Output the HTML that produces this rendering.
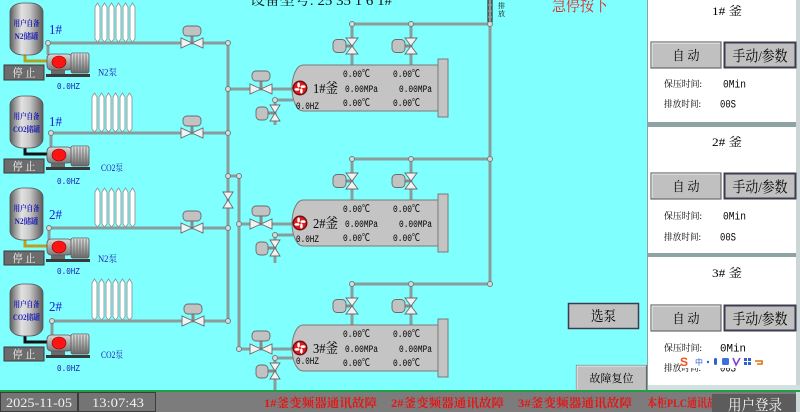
<!DOCTYPE html>
<html><head><meta charset="utf-8"><style>
html,body{margin:0;padding:0;background:#80ffff;}
svg{display:block;}
.cn{font-family:"Liberation Serif","Noto Serif CJK SC",serif;}
.mn{font-family:"Liberation Mono","Noto Sans CJK SC",monospace;}
.p{fill:none;stroke:#8a9c9c;stroke-width:3;}
.nd{fill:#d4dcdc;stroke:#6f8080;stroke-width:1;}
.v{fill:#f2f2f2;stroke:#6a6a6a;stroke-width:0.9;}
.ac{fill:#c2c2c2;stroke:#6a6a6a;stroke-width:0.9;}
.st{stroke:#8a8a8a;stroke-width:3;}
.tb{fill:#ffffff;stroke:#8a9a9a;stroke-width:0.9;}
.blue{fill:#1a1ab4;}
</style></head><body>
<svg width="800" height="412" viewBox="0 0 800 412" xmlns="http://www.w3.org/2000/svg">
<defs>
<linearGradient id="tg" x1="0" x2="1" y1="0" y2="0">
<stop offset="0" stop-color="#5e5e5e"/><stop offset="0.35" stop-color="#e2e2e2"/><stop offset="0.6" stop-color="#c8c8c8"/><stop offset="1" stop-color="#5a5a5a"/>
</linearGradient>
<linearGradient id="pg" x1="0" x2="0" y1="0" y2="1">
<stop offset="0" stop-color="#d8d8d8"/><stop offset="1" stop-color="#7a7a7a"/>
</linearGradient>
<linearGradient id="mg" x1="0" x2="0" y1="0" y2="1">
<stop offset="0" stop-color="#e4e4e4"/><stop offset="0.5" stop-color="#a8a8a8"/><stop offset="1" stop-color="#6a6a6a"/>
</linearGradient>
</defs>
<rect x="0" y="0" width="800" height="412" fill="#80ffff"/>

<!-- top texts -->
<text x="250" y="5" font-size="14" class="cn" fill="#111" textLength="142" lengthAdjust="spacingAndGlyphs">设备型号: 25 35 1 6 1#</text>
<text x="552" y="11" font-size="17" class="cn" fill="#e02828" textLength="56" lengthAdjust="spacingAndGlyphs">急停按下</text>
<rect x="487.5" y="0" width="5" height="22" fill="#111"/>
<line x1="488" y1="5" x2="492" y2="5" stroke="#bbb" stroke-width="1"/>
<line x1="488" y1="11" x2="492" y2="11" stroke="#bbb" stroke-width="1"/>
<line x1="488" y1="17" x2="492" y2="17" stroke="#bbb" stroke-width="1"/>
<text x="498" y="8" font-size="7" class="cn" fill="#111">排</text>
<text x="498" y="16" font-size="7" class="cn" fill="#111">放</text>

<!-- ===== main pipes ===== -->
<!-- row horizontal pipes -->
<line x1="48" y1="43" x2="228" y2="43" class="p"/>
<line x1="51" y1="133" x2="228" y2="133" class="p"/>
<line x1="49" y1="228" x2="228" y2="228" class="p"/>
<line x1="52" y1="321" x2="228" y2="321" class="p"/>
<!-- pump vertical pipes -->
<line x1="48" y1="43" x2="48" y2="55" class="p"/>
<line x1="51" y1="133" x2="51" y2="148" class="p"/>
<line x1="49" y1="228" x2="49" y2="240" class="p"/>
<line x1="52" y1="321" x2="52" y2="336" class="p"/>
<!-- collectors -->
<line x1="228" y1="43" x2="228" y2="321" class="p"/>
<polyline points="228,176 239,176 239,349" class="p"/>
<line x1="490" y1="0" x2="490" y2="284" class="p"/>
<!-- inlets -->
<line x1="228" y1="89" x2="293" y2="89" class="p"/>
<line x1="239" y1="224" x2="293" y2="224" class="p"/>
<line x1="239" y1="349" x2="293" y2="349" class="p"/>
<line x1="275" y1="385" x2="275" y2="392" class="p"/>

<!-- exchangers -->
<g>
<polygon class="tb" points="95,7 97.5,3 100,7 100,39 97.5,42 95,39"/>
<polygon class="tb" points="102,7 104.5,3 107,7 107,39 104.5,42 102,39"/>
<polygon class="tb" points="109,7 111.5,3 114,7 114,39 111.5,42 109,39"/>
<polygon class="tb" points="116,7 118.5,3 121,7 121,39 118.5,42 116,39"/>
<polygon class="tb" points="123,7 125.5,3 128,7 128,39 125.5,42 123,39"/>
<polygon class="tb" points="130,7 132.5,3 135,7 135,39 132.5,42 130,39"/>

<polygon class="tb" points="92,97 94.5,93 97,97 97,129 94.5,132 92,129"/>
<polygon class="tb" points="99,97 101.5,93 104,97 104,129 101.5,132 99,129"/>
<polygon class="tb" points="106,97 108.5,93 111,97 111,129 108.5,132 106,129"/>
<polygon class="tb" points="113,97 115.5,93 118,97 118,129 115.5,132 113,129"/>
<polygon class="tb" points="120,97 122.5,93 125,97 125,129 122.5,132 120,129"/>
<polygon class="tb" points="127,97 129.5,93 132,97 132,129 129.5,132 127,129"/>

<polygon class="tb" points="95,192 97.5,188 100,192 100,224 97.5,227 95,224"/>
<polygon class="tb" points="102,192 104.5,188 107,192 107,224 104.5,227 102,224"/>
<polygon class="tb" points="109,192 111.5,188 114,192 114,224 111.5,227 109,224"/>
<polygon class="tb" points="116,192 118.5,188 121,192 121,224 118.5,227 116,224"/>
<polygon class="tb" points="123,192 125.5,188 128,192 128,224 125.5,227 123,224"/>
<polygon class="tb" points="130,192 132.5,188 135,192 135,224 132.5,227 130,224"/>

<polygon class="tb" points="92,283 94.5,279 97,283 97,317 94.5,320 92,317"/>
<polygon class="tb" points="99,283 101.5,279 104,283 104,317 101.5,320 99,317"/>
<polygon class="tb" points="106,283 108.5,279 111,283 111,317 108.5,320 106,317"/>
<polygon class="tb" points="113,283 115.5,279 118,283 118,317 115.5,320 113,317"/>
<polygon class="tb" points="120,283 122.5,279 125,283 125,317 122.5,320 120,317"/>
<polygon class="tb" points="127,283 129.5,279 132,283 132,317 129.5,320 127,317"/>
</g>

<!-- row valves -->
<g>
<line x1="192" y1="43" x2="192" y2="34" class="st"/><rect class="ac" x="183" y="26" width="18" height="10" rx="4"/>
<polygon class="v" points="181,38 181,48 192,43"/><polygon class="v" points="203,38 203,48 192,43"/>
<line x1="192" y1="133" x2="192" y2="124" class="st"/><rect class="ac" x="183" y="116" width="18" height="10" rx="4"/>
<polygon class="v" points="181,128 181,138 192,133"/><polygon class="v" points="203,128 203,138 192,133"/>
<line x1="192" y1="228" x2="192" y2="219" class="st"/><rect class="ac" x="183" y="211" width="18" height="10" rx="4"/>
<polygon class="v" points="181,223 181,233 192,228"/><polygon class="v" points="203,223 203,233 192,228"/>
<line x1="193" y1="321" x2="193" y2="312" class="st"/><rect class="ac" x="184" y="304" width="18" height="10" rx="4"/>
<polygon class="v" points="182,316 182,326 193,321"/><polygon class="v" points="204,316 204,326 193,321"/>
<!-- collector valve -->
<polygon class="v" points="223,192 233,192 228,200"/><polygon class="v" points="223,208 233,208 228,200"/>
</g>
<!-- collector nodes -->
<circle class="nd" cx="48" cy="43" r="2.5"/><circle class="nd" cx="51" cy="133" r="2.5"/>
<circle class="nd" cx="49" cy="228" r="2.5"/><circle class="nd" cx="52" cy="321" r="2.5"/>
<circle class="nd" cx="228" cy="43" r="2.5"/><circle class="nd" cx="228" cy="89" r="2.5"/>
<circle class="nd" cx="228" cy="133" r="2.5"/><circle class="nd" cx="228" cy="176" r="2.5"/>
<circle class="nd" cx="239" cy="176" r="2.5"/><circle class="nd" cx="228" cy="228" r="2.5"/>
<circle class="nd" cx="239" cy="224" r="2.5"/><circle class="nd" cx="228" cy="321" r="2.5"/>
<circle class="nd" cx="239" cy="349" r="2.5"/>

<!-- ===== rows (tank + pump) ===== -->
<g transform="translate(0,0)">
<polyline points="25,54 25,61 47,61" fill="none" stroke="#b8a020" stroke-width="3"/>
<rect x="10" y="3" width="33" height="52" rx="13" ry="9" fill="url(#tg)" stroke="#555" stroke-width="0.8"/>
<text x="26.5" y="26" font-size="8" class="cn blue" text-anchor="middle" textLength="26" lengthAdjust="spacingAndGlyphs" font-weight="bold">用户自备</text>
<text x="26.5" y="39" font-size="8" class="cn blue" text-anchor="middle" textLength="24" lengthAdjust="spacingAndGlyphs" font-weight="bold">N2储罐</text>
<text x="49" y="34" font-size="14" class="cn" fill="#1a22cc" textLength="13" lengthAdjust="spacingAndGlyphs">1#</text>
<rect x="4" y="65" width="40" height="15" fill="#6c6c6c" stroke="#3a3a3a"/>
<text x="24" y="76.5" font-size="11" class="cn" fill="#f2f2f2" text-anchor="middle" textLength="23" lengthAdjust="spacingAndGlyphs">停 止</text>
<rect x="51" y="69" width="14" height="6" fill="#6a6a6a"/>
<rect x="47" y="54" width="25" height="16" rx="4" fill="url(#pg)" stroke="#555" stroke-width="0.8"/>
<ellipse cx="59" cy="62" rx="7" ry="6" fill="#ff1414" stroke="#8a0000" stroke-width="0.6"/>
<rect x="71" y="53" width="18" height="20" rx="2" fill="url(#mg)" stroke="#555" stroke-width="0.8"/>
<path d="M74,54V72M77,54V72M80,54V72M83,54V72M86,54V72" stroke="#666" stroke-width="0.8"/>
<rect x="46" y="74" width="44" height="3" fill="#3a3a3a"/>
<text x="98" y="75.5" font-size="9" class="cn blue" textLength="19" lengthAdjust="spacingAndGlyphs">N2泵</text>
<text x="57" y="89" font-size="9" class="mn blue" textLength="23" lengthAdjust="spacingAndGlyphs">0.0HZ</text>
</g>

<g transform="translate(0,93)">
<polyline points="25,54 25,61 47,61" fill="none" stroke="#111" stroke-width="3"/>
<rect x="10" y="3" width="33" height="52" rx="13" ry="9" fill="url(#tg)" stroke="#555" stroke-width="0.8"/>
<text x="26.5" y="26" font-size="8" class="cn blue" text-anchor="middle" textLength="26" lengthAdjust="spacingAndGlyphs" font-weight="bold">用户自备</text>
<text x="26.5" y="39" font-size="8" class="cn blue" text-anchor="middle" textLength="27" lengthAdjust="spacingAndGlyphs" font-weight="bold">CO2储罐</text>
<text x="49" y="33" font-size="14" class="cn" fill="#1a22cc" textLength="13" lengthAdjust="spacingAndGlyphs">1#</text>
<rect x="4" y="66" width="40" height="14" fill="#6c6c6c" stroke="#3a3a3a"/>
<text x="24" y="77" font-size="11" class="cn" fill="#f2f2f2" text-anchor="middle" textLength="23" lengthAdjust="spacingAndGlyphs">停 止</text>
<rect x="51" y="69" width="14" height="6" fill="#6a6a6a"/>
<rect x="47" y="54" width="25" height="16" rx="4" fill="url(#pg)" stroke="#555" stroke-width="0.8"/>
<ellipse cx="59" cy="62" rx="7" ry="6" fill="#ff1414" stroke="#8a0000" stroke-width="0.6"/>
<rect x="71" y="53" width="18" height="20" rx="2" fill="url(#mg)" stroke="#555" stroke-width="0.8"/>
<path d="M74,54V72M77,54V72M80,54V72M83,54V72M86,54V72" stroke="#666" stroke-width="0.8"/>
<rect x="46" y="74" width="44" height="3" fill="#3a3a3a"/>
<text x="101" y="78" font-size="9" class="cn blue" textLength="22" lengthAdjust="spacingAndGlyphs">CO2泵</text>
<text x="57" y="91" font-size="9" class="mn blue" textLength="23" lengthAdjust="spacingAndGlyphs">0.0HZ</text>
</g>

<g transform="translate(0,185)">
<polyline points="25,54 25,61 47,61" fill="none" stroke="#b8a020" stroke-width="3"/>
<rect x="10" y="3" width="33" height="52" rx="13" ry="9" fill="url(#tg)" stroke="#555" stroke-width="0.8"/>
<text x="26.5" y="26" font-size="8" class="cn blue" text-anchor="middle" textLength="26" lengthAdjust="spacingAndGlyphs" font-weight="bold">用户自备</text>
<text x="26.5" y="39" font-size="8" class="cn blue" text-anchor="middle" textLength="24" lengthAdjust="spacingAndGlyphs" font-weight="bold">N2储罐</text>
<text x="49" y="34" font-size="14" class="cn" fill="#1a22cc" textLength="13" lengthAdjust="spacingAndGlyphs">2#</text>
<rect x="4" y="66" width="40" height="14" fill="#6c6c6c" stroke="#3a3a3a"/>
<text x="24" y="77" font-size="11" class="cn" fill="#f2f2f2" text-anchor="middle" textLength="23" lengthAdjust="spacingAndGlyphs">停 止</text>
<rect x="51" y="69" width="14" height="6" fill="#6a6a6a"/>
<rect x="47" y="54" width="25" height="16" rx="4" fill="url(#pg)" stroke="#555" stroke-width="0.8"/>
<ellipse cx="59" cy="62" rx="7" ry="6" fill="#ff1414" stroke="#8a0000" stroke-width="0.6"/>
<rect x="71" y="53" width="18" height="20" rx="2" fill="url(#mg)" stroke="#555" stroke-width="0.8"/>
<path d="M74,54V72M77,54V72M80,54V72M83,54V72M86,54V72" stroke="#666" stroke-width="0.8"/>
<rect x="46" y="74" width="44" height="3" fill="#3a3a3a"/>
<text x="98" y="77" font-size="9" class="cn blue" textLength="19" lengthAdjust="spacingAndGlyphs">N2泵</text>
<text x="57" y="89" font-size="9" class="mn blue" textLength="23" lengthAdjust="spacingAndGlyphs">0.0HZ</text>
</g>

<g transform="translate(0,281)">
<polyline points="25,54 25,61 47,61" fill="none" stroke="#111" stroke-width="3"/>
<rect x="10" y="3" width="33" height="52" rx="13" ry="9" fill="url(#tg)" stroke="#555" stroke-width="0.8"/>
<text x="26.5" y="26" font-size="8" class="cn blue" text-anchor="middle" textLength="26" lengthAdjust="spacingAndGlyphs" font-weight="bold">用户自备</text>
<text x="26.5" y="39" font-size="8" class="cn blue" text-anchor="middle" textLength="27" lengthAdjust="spacingAndGlyphs" font-weight="bold">CO2储罐</text>
<text x="49" y="30" font-size="14" class="cn" fill="#1a22cc" textLength="13" lengthAdjust="spacingAndGlyphs">2#</text>
<rect x="4" y="66" width="40" height="14" fill="#6c6c6c" stroke="#3a3a3a"/>
<text x="24" y="77" font-size="11" class="cn" fill="#f2f2f2" text-anchor="middle" textLength="23" lengthAdjust="spacingAndGlyphs">停 止</text>
<rect x="51" y="69" width="14" height="6" fill="#6a6a6a"/>
<rect x="47" y="54" width="25" height="16" rx="4" fill="url(#pg)" stroke="#555" stroke-width="0.8"/>
<ellipse cx="59" cy="62" rx="7" ry="6" fill="#ff1414" stroke="#8a0000" stroke-width="0.6"/>
<rect x="71" y="53" width="18" height="20" rx="2" fill="url(#mg)" stroke="#555" stroke-width="0.8"/>
<path d="M74,54V72M77,54V72M80,54V72M83,54V72M86,54V72" stroke="#666" stroke-width="0.8"/>
<rect x="46" y="74" width="44" height="3" fill="#3a3a3a"/>
<text x="101" y="77" font-size="9" class="cn blue" textLength="22" lengthAdjust="spacingAndGlyphs">CO2泵</text>
<text x="57" y="90" font-size="9" class="mn blue" textLength="23" lengthAdjust="spacingAndGlyphs">0.0HZ</text>
</g>

<!-- ===== kettles ===== -->
<g transform="translate(0,0)">
<polyline points="352,65 352,24 490,24" class="p"/>
<line x1="411" y1="24" x2="411" y2="65" class="p"/>
<line x1="345" y1="46" x2="352" y2="46" class="st"/><rect class="ac" x="333" y="39.5" width="13" height="13" rx="4"/>
<polygon class="v" points="346,38 358,38 352,46"/><polygon class="v" points="346,54 358,54 352,46"/>
<line x1="404" y1="46" x2="411" y2="46" class="st"/><rect class="ac" x="392" y="39.5" width="13" height="13" rx="4"/>
<polygon class="v" points="405,38 417,38 411,46"/><polygon class="v" points="405,54 417,54 411,46"/>
<line x1="261" y1="89" x2="261" y2="80" class="st"/><rect class="ac" x="252" y="71" width="18" height="10" rx="4"/>
<polygon class="v" points="250,84 250,94 261,89"/><polygon class="v" points="272,84 272,94 261,89"/>
<polyline points="293,100 275,100 275,125" class="p"/>
<line x1="268" y1="113" x2="275" y2="113" class="st"/><rect class="ac" x="256" y="107" width="12" height="13" rx="4"/>
<polygon class="v" points="270,105 280,105 275,113"/><polygon class="v" points="270,121 280,121 275,113"/>
<path d="M303,65 H438 V111 H303 A11,23 0 0 1 303,65 Z" fill="#c4c4c4" stroke="#7a7a7a" stroke-width="1"/>
<rect x="438" y="59" width="10" height="58" fill="#c4c4c4" stroke="#7a7a7a" stroke-width="1"/>
<circle class="nd" cx="352" cy="24" r="2.5"/><circle class="nd" cx="411" cy="24" r="2.5"/><circle class="nd" cx="490" cy="24" r="2.5"/><circle class="nd" cx="275" cy="100" r="2.5"/>
<circle cx="300" cy="88" r="7.5" fill="#701010"/><circle cx="300" cy="88" r="6" fill="#e01c1c"/>
<g fill="#fff"><ellipse cx="303" cy="86.6" rx="2.6" ry="1.3"/><ellipse cx="303" cy="86.6" rx="2.6" ry="1.3" transform="rotate(90 300 88)"/><ellipse cx="303" cy="86.6" rx="2.6" ry="1.3" transform="rotate(180 300 88)"/><ellipse cx="303" cy="86.6" rx="2.6" ry="1.3" transform="rotate(270 300 88)"/></g>
<text x="313" y="93" font-size="14" class="cn" fill="#000" textLength="25" lengthAdjust="spacingAndGlyphs">1#釜</text>
<text x="343" y="77" font-size="10" class="mn" fill="#000" textLength="27" lengthAdjust="spacingAndGlyphs">0.00℃</text>
<text x="393" y="77" font-size="10" class="mn" fill="#000" textLength="27" lengthAdjust="spacingAndGlyphs">0.00℃</text>
<text x="345" y="92" font-size="10" class="mn" fill="#000" textLength="33" lengthAdjust="spacingAndGlyphs">0.00MPa</text>
<text x="399" y="92" font-size="10" class="mn" fill="#000" textLength="33" lengthAdjust="spacingAndGlyphs">0.00MPa</text>
<text x="343" y="106" font-size="10" class="mn" fill="#000" textLength="27" lengthAdjust="spacingAndGlyphs">0.00℃</text>
<text x="393" y="106" font-size="10" class="mn" fill="#000" textLength="27" lengthAdjust="spacingAndGlyphs">0.00℃</text>
<text x="296" y="109" font-size="10" class="mn" fill="#000" textLength="23" lengthAdjust="spacingAndGlyphs">0.0HZ</text>
</g>

<g transform="translate(0,135)">
<polyline points="352,65 352,24 490,24" class="p"/>
<line x1="411" y1="24" x2="411" y2="65" class="p"/>
<line x1="345" y1="46" x2="352" y2="46" class="st"/><rect class="ac" x="333" y="39.5" width="13" height="13" rx="4"/>
<polygon class="v" points="346,38 358,38 352,46"/><polygon class="v" points="346,54 358,54 352,46"/>
<line x1="404" y1="46" x2="411" y2="46" class="st"/><rect class="ac" x="392" y="39.5" width="13" height="13" rx="4"/>
<polygon class="v" points="405,38 417,38 411,46"/><polygon class="v" points="405,54 417,54 411,46"/>
<line x1="261" y1="89" x2="261" y2="80" class="st"/><rect class="ac" x="252" y="71" width="18" height="10" rx="4"/>
<polygon class="v" points="250,84 250,94 261,89"/><polygon class="v" points="272,84 272,94 261,89"/>
<polyline points="293,100 275,100 275,128" class="p"/>
<line x1="268" y1="113" x2="275" y2="113" class="st"/><rect class="ac" x="256" y="107" width="12" height="13" rx="4"/>
<polygon class="v" points="270,105 280,105 275,113"/><polygon class="v" points="270,121 280,121 275,113"/>
<path d="M303,65 H438 V111 H303 A11,23 0 0 1 303,65 Z" fill="#c4c4c4" stroke="#7a7a7a" stroke-width="1"/>
<rect x="438" y="59" width="10" height="58" fill="#c4c4c4" stroke="#7a7a7a" stroke-width="1"/>
<circle class="nd" cx="352" cy="24" r="2.5"/><circle class="nd" cx="411" cy="24" r="2.5"/><circle class="nd" cx="490" cy="24" r="2.5"/><circle class="nd" cx="275" cy="100" r="2.5"/>
<circle cx="300" cy="88" r="7.5" fill="#701010"/><circle cx="300" cy="88" r="6" fill="#e01c1c"/>
<g fill="#fff"><ellipse cx="303" cy="86.6" rx="2.6" ry="1.3"/><ellipse cx="303" cy="86.6" rx="2.6" ry="1.3" transform="rotate(90 300 88)"/><ellipse cx="303" cy="86.6" rx="2.6" ry="1.3" transform="rotate(180 300 88)"/><ellipse cx="303" cy="86.6" rx="2.6" ry="1.3" transform="rotate(270 300 88)"/></g>
<text x="313" y="93" font-size="14" class="cn" fill="#000" textLength="25" lengthAdjust="spacingAndGlyphs">2#釜</text>
<text x="343" y="77" font-size="10" class="mn" fill="#000" textLength="27" lengthAdjust="spacingAndGlyphs">0.00℃</text>
<text x="393" y="77" font-size="10" class="mn" fill="#000" textLength="27" lengthAdjust="spacingAndGlyphs">0.00℃</text>
<text x="345" y="92" font-size="10" class="mn" fill="#000" textLength="33" lengthAdjust="spacingAndGlyphs">0.00MPa</text>
<text x="399" y="92" font-size="10" class="mn" fill="#000" textLength="33" lengthAdjust="spacingAndGlyphs">0.00MPa</text>
<text x="343" y="106" font-size="10" class="mn" fill="#000" textLength="27" lengthAdjust="spacingAndGlyphs">0.00℃</text>
<text x="393" y="106" font-size="10" class="mn" fill="#000" textLength="27" lengthAdjust="spacingAndGlyphs">0.00℃</text>
<text x="296" y="107" font-size="10" class="mn" fill="#000" textLength="23" lengthAdjust="spacingAndGlyphs">0.0HZ</text>
</g>

<g transform="translate(0,260)">
<polyline points="352,65 352,24 490,24" class="p"/>
<line x1="411" y1="24" x2="411" y2="65" class="p"/>
<line x1="345" y1="46" x2="352" y2="46" class="st"/><rect class="ac" x="333" y="39.5" width="13" height="13" rx="4"/>
<polygon class="v" points="346,38 358,38 352,46"/><polygon class="v" points="346,54 358,54 352,46"/>
<line x1="404" y1="46" x2="411" y2="46" class="st"/><rect class="ac" x="392" y="39.5" width="13" height="13" rx="4"/>
<polygon class="v" points="405,38 417,38 411,46"/><polygon class="v" points="405,54 417,54 411,46"/>
<line x1="261" y1="89" x2="261" y2="80" class="st"/><rect class="ac" x="252" y="71" width="18" height="10" rx="4"/>
<polygon class="v" points="250,84 250,94 261,89"/><polygon class="v" points="272,84 272,94 261,89"/>
<polyline points="293,98 275,98 275,130" class="p"/>
<line x1="268" y1="111" x2="275" y2="111" class="st"/><rect class="ac" x="256" y="105" width="12" height="13" rx="4"/>
<polygon class="v" points="270,103 280,103 275,111"/><polygon class="v" points="270,119 280,119 275,111"/>
<path d="M303,65 H438 V111 H303 A11,23 0 0 1 303,65 Z" fill="#c4c4c4" stroke="#7a7a7a" stroke-width="1"/>
<rect x="438" y="59" width="10" height="58" fill="#c4c4c4" stroke="#7a7a7a" stroke-width="1"/>
<circle class="nd" cx="352" cy="24" r="2.5"/><circle class="nd" cx="411" cy="24" r="2.5"/><circle class="nd" cx="490" cy="24" r="2.5"/><circle class="nd" cx="275" cy="98" r="2.5"/>
<circle cx="300" cy="88" r="7.5" fill="#701010"/><circle cx="300" cy="88" r="6" fill="#e01c1c"/>
<g fill="#fff"><ellipse cx="303" cy="86.6" rx="2.6" ry="1.3"/><ellipse cx="303" cy="86.6" rx="2.6" ry="1.3" transform="rotate(90 300 88)"/><ellipse cx="303" cy="86.6" rx="2.6" ry="1.3" transform="rotate(180 300 88)"/><ellipse cx="303" cy="86.6" rx="2.6" ry="1.3" transform="rotate(270 300 88)"/></g>
<text x="313" y="93" font-size="14" class="cn" fill="#000" textLength="25" lengthAdjust="spacingAndGlyphs">3#釜</text>
<text x="343" y="77" font-size="10" class="mn" fill="#000" textLength="27" lengthAdjust="spacingAndGlyphs">0.00℃</text>
<text x="393" y="77" font-size="10" class="mn" fill="#000" textLength="27" lengthAdjust="spacingAndGlyphs">0.00℃</text>
<text x="345" y="92" font-size="10" class="mn" fill="#000" textLength="33" lengthAdjust="spacingAndGlyphs">0.00MPa</text>
<text x="399" y="92" font-size="10" class="mn" fill="#000" textLength="33" lengthAdjust="spacingAndGlyphs">0.00MPa</text>
<text x="343" y="106" font-size="10" class="mn" fill="#000" textLength="27" lengthAdjust="spacingAndGlyphs">0.00℃</text>
<text x="393" y="106" font-size="10" class="mn" fill="#000" textLength="27" lengthAdjust="spacingAndGlyphs">0.00℃</text>
<text x="296" y="104" font-size="10" class="mn" fill="#000" textLength="23" lengthAdjust="spacingAndGlyphs">0.0HZ</text>
</g>

<!-- ===== right panel ===== -->
<rect x="647" y="0" width="153" height="392" fill="#8ea4a4"/>
<rect x="796" y="0" width="4" height="392" fill="#ccd6d6"/>
<rect x="648" y="0" width="148" height="122" fill="#ffffff"/>
<rect x="648" y="127" width="148" height="126" fill="#ffffff"/>
<rect x="648" y="257" width="148" height="128" fill="#ffffff"/>
<rect x="648" y="385" width="152" height="7" fill="#d4e0e0"/>

<!-- panel 1 -->
<text x="727" y="15" font-size="12" class="cn" fill="#000" text-anchor="middle" textLength="30" lengthAdjust="spacingAndGlyphs">1# 釜</text>
<rect x="651" y="42" width="70" height="26" fill="#c0c0c0" stroke="#6a6a6a" stroke-width="1.2"/>
<polyline points="652,67 652,43 720,43" fill="none" stroke="#eee" stroke-width="1"/>
<text x="686" y="60" font-size="13" class="cn" fill="#000" text-anchor="middle" textLength="27" lengthAdjust="spacingAndGlyphs">自 动</text>
<rect x="724.5" y="42.5" width="71" height="25" fill="#c0c0c0" stroke="#3c3c50" stroke-width="2"/>
<text x="760" y="61" font-size="15" class="cn" fill="#000" text-anchor="middle" textLength="55" lengthAdjust="spacingAndGlyphs">手动/参数</text>
<text x="664" y="87" font-size="9" class="cn" fill="#000" textLength="38" lengthAdjust="spacingAndGlyphs">保压时间:</text>
<text x="723" y="87.5" font-size="11" class="mn" fill="#000" textLength="23" lengthAdjust="spacingAndGlyphs">0Min</text>
<text x="664" y="107" font-size="9" class="cn" fill="#000" textLength="37" lengthAdjust="spacingAndGlyphs">排放时间:</text>
<text x="720" y="107.5" font-size="11" class="mn" fill="#000" textLength="16" lengthAdjust="spacingAndGlyphs">00S</text>

<!-- panel 2 -->
<text x="727" y="146" font-size="12" class="cn" fill="#000" text-anchor="middle" textLength="30" lengthAdjust="spacingAndGlyphs">2# 釜</text>
<rect x="651" y="173" width="70" height="26" fill="#c0c0c0" stroke="#6a6a6a" stroke-width="1.2"/>
<polyline points="652,198 652,174 720,174" fill="none" stroke="#eee" stroke-width="1"/>
<text x="686" y="191" font-size="13" class="cn" fill="#000" text-anchor="middle" textLength="27" lengthAdjust="spacingAndGlyphs">自 动</text>
<rect x="724.5" y="173.5" width="71" height="25" fill="#c0c0c0" stroke="#3c3c50" stroke-width="2"/>
<text x="760" y="192" font-size="15" class="cn" fill="#000" text-anchor="middle" textLength="55" lengthAdjust="spacingAndGlyphs">手动/参数</text>
<text x="664" y="219" font-size="9" class="cn" fill="#000" textLength="38" lengthAdjust="spacingAndGlyphs">保压时间:</text>
<text x="723" y="219.5" font-size="11" class="mn" fill="#000" textLength="23" lengthAdjust="spacingAndGlyphs">0Min</text>
<text x="664" y="240" font-size="9" class="cn" fill="#000" textLength="37" lengthAdjust="spacingAndGlyphs">排放时间:</text>
<text x="720" y="240.5" font-size="11" class="mn" fill="#000" textLength="16" lengthAdjust="spacingAndGlyphs">00S</text>

<!-- panel 3 -->
<text x="727" y="277" font-size="12" class="cn" fill="#000" text-anchor="middle" textLength="30" lengthAdjust="spacingAndGlyphs">3# 釜</text>
<rect x="651" y="305" width="70" height="26" fill="#c0c0c0" stroke="#6a6a6a" stroke-width="1.2"/>
<polyline points="652,330 652,306 720,306" fill="none" stroke="#eee" stroke-width="1"/>
<text x="686" y="323" font-size="13" class="cn" fill="#000" text-anchor="middle" textLength="27" lengthAdjust="spacingAndGlyphs">自 动</text>
<rect x="724.5" y="305.5" width="71" height="25" fill="#c0c0c0" stroke="#3c3c50" stroke-width="2"/>
<text x="760" y="324" font-size="15" class="cn" fill="#000" text-anchor="middle" textLength="55" lengthAdjust="spacingAndGlyphs">手动/参数</text>
<text x="664" y="351" font-size="9" class="cn" fill="#000" textLength="38" lengthAdjust="spacingAndGlyphs">保压时间:</text>
<text x="720" y="351.5" font-size="11" class="mn" fill="#000" textLength="26" lengthAdjust="spacingAndGlyphs">0Min</text>
<text x="664" y="371" font-size="9" class="cn" fill="#000" textLength="37" lengthAdjust="spacingAndGlyphs">排放时间:</text>
<text x="720" y="371.5" font-size="11" class="mn" fill="#000" textLength="16" lengthAdjust="spacingAndGlyphs">00S</text>
<!-- IME toolbar overlay -->
<rect x="681" y="356" width="85" height="12" fill="#ffffff"/>
<text x="680" y="366" font-size="12" font-weight="bold" font-family="Liberation Sans, sans-serif" fill="#f05018">S</text>
<text x="695" y="365" font-size="8" font-family="Noto Sans CJK SC, sans-serif" fill="#3060d0">中</text>
<circle cx="708" cy="362" r="1.2" fill="#3060d0"/>
<rect x="714" y="358" width="3" height="7" rx="1.5" fill="#3060d0"/>
<rect x="722" y="358" width="7" height="7" rx="1.5" fill="#3a70e0"/>
<path d="M733,358 L736,365 L740,358" stroke="#8040d0" stroke-width="1.6" fill="none"/>
<rect x="744" y="358" width="3" height="3" fill="#3060d0"/><rect x="748" y="358" width="3" height="3" fill="#3060d0"/><rect x="744" y="362" width="3" height="3" fill="#3060d0"/><rect x="748" y="362" width="3" height="3" fill="#3060d0"/>
<path d="M755,361 h7 v3 h-5" stroke="#e07010" stroke-width="1.6" fill="none"/>

<!-- select pump & reset buttons -->
<rect x="568.5" y="303.5" width="70" height="25" fill="#c0c0c0" stroke="#3c3c50" stroke-width="1.5"/>
<text x="603.5" y="321" font-size="14" class="cn" fill="#000" text-anchor="middle" textLength="25" lengthAdjust="spacingAndGlyphs">选泵</text>
<rect x="576.5" y="365.5" width="70" height="26" fill="#c0c0c0" stroke="#6a6a6a" stroke-width="1.2"/>
<polyline points="577,391 577,366 646,366" fill="none" stroke="#eee" stroke-width="1"/>
<text x="611.5" y="382" font-size="11" class="cn" fill="#000" text-anchor="middle" textLength="44" lengthAdjust="spacingAndGlyphs">故障复位</text>

<!-- ===== bottom bar ===== -->
<rect x="0" y="390" width="800" height="2" fill="#1fa046"/>
<rect x="0" y="392" width="800" height="20" fill="#7c7c7c"/>
<rect x="0.5" y="392.5" width="77" height="19" fill="#747474" stroke="#3c3c3c" stroke-width="1"/>
<rect x="78.5" y="392.5" width="77" height="19" fill="#747474" stroke="#3c3c3c" stroke-width="1"/>
<text x="6" y="407" font-size="13" class="cn" fill="#f0f0f0" textLength="66" lengthAdjust="spacingAndGlyphs">2025-11-05</text>
<text x="92" y="407" font-size="13" class="cn" fill="#f0f0f0" textLength="52" lengthAdjust="spacingAndGlyphs">13:07:43</text>
<text x="264" y="407" font-size="12" class="cn" fill="#e81414" font-weight="bold" textLength="113" lengthAdjust="spacingAndGlyphs">1#釜变频器通讯故障</text>
<text x="391" y="407" font-size="12" class="cn" fill="#e81414" font-weight="bold" textLength="113" lengthAdjust="spacingAndGlyphs">2#釜变频器通讯故障</text>
<text x="518" y="407" font-size="12" class="cn" fill="#e81414" font-weight="bold" textLength="114" lengthAdjust="spacingAndGlyphs">3#釜变频器通讯故障</text>
<text x="647" y="407" font-size="12" class="cn" fill="#e81414" font-weight="bold" textLength="80" lengthAdjust="spacingAndGlyphs">本柜PLC通讯故障</text>
<rect x="712" y="394" width="84" height="18" fill="#5c5c5c"/>
<rect x="796" y="392" width="4" height="20" fill="#cfd8d8"/>
<text x="728" y="410" font-size="15" class="cn" fill="#f4f4f4" textLength="54" lengthAdjust="spacingAndGlyphs">用户登录</text>
</svg>
</body></html>
